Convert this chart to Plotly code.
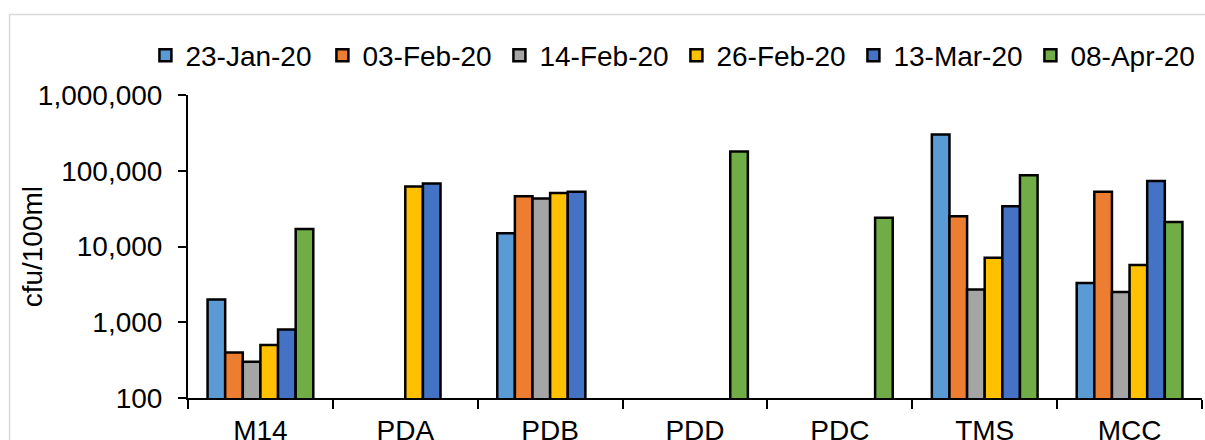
import plotly.graph_objects as go

categories = ["M14", "PDA", "PDB", "PDD", "PDC", "TMS", "MCC"]
series_names = ["23-Jan-20", "03-Feb-20", "14-Feb-20", "26-Feb-20", "13-Mar-20", "08-Apr-20"]
s_23jan = [2000, None, 15000, None, None, 300000, 3300]
s_03feb = [400, None, 46000, None, None, 25000, 53000]
s_14feb = [300, None, 43000, None, None, 2700, 2500]
s_26feb = [500, 62000, 51000, None, None, 7100, 5700]
s_13mar = [800, 68000, 53000, None, None, 34000, 73000]
s_08apr = [17000, None, None, 180000, 24000, 87000, 21000]
series_values = [s_23jan, s_03feb, s_14feb, s_26feb, s_13mar, s_08apr]
colors = ["#5B9BD5", "#ED7D31", "#A5A5A5", "#FFC000", "#4472C4", "#70AD47"]

y_tickvals = [100, 1000, 10000, 100000, 1000000]
y_ticktext = ["100", "1,000", "10,000", "100,000", "1,000,000"]

FONT = "Liberation Sans, Arial, sans-serif"
FS = 28

fig = go.Figure()
for name, vals, col in zip(series_names, series_values, colors):
    fig.add_trace(go.Bar(
        x=categories, y=vals, name=name,
        marker=dict(color=col, line=dict(color="black", width=2.5)),
    ))

fig.update_layout(
    width=1205, height=440,
    margin=dict(l=188, r=3, t=95, b=42, autoexpand=False),
    paper_bgcolor="white", plot_bgcolor="white",
    barmode="group", bargap=0.27, bargroupgap=0,
    font=dict(family=FONT, size=FS, color="black"),
    legend=dict(orientation="h", x=-0.042, xanchor="left", y=1.13, yanchor="middle",
                font=dict(size=FS), traceorder="normal", itemwidth=30,
                entrywidth=132, entrywidthmode="pixels",
                bgcolor="rgba(0,0,0,0)"),
    showlegend=True,
)
fig.update_yaxes(
    type="log", range=[2, 6], tickvals=y_tickvals, ticktext=y_ticktext,
    showline=True, linecolor="black", linewidth=2, ticks="outside", ticklen=8,
    tickwidth=2, tickcolor="black", showgrid=False, zeroline=False,
    tickfont=dict(size=FS), ticklabelstandoff=10, automargin=False,
)
fig.update_xaxes(
    showline=True, linecolor="black", linewidth=2, ticks="outside", ticklen=9,
    tickwidth=2, tickcolor="black", tickson="boundaries", showgrid=False,
    tickfont=dict(size=FS), ticklabelstandoff=6, automargin=False,
)
fig.add_annotation(text="cfu/100ml", xref="paper", yref="paper",
                   x=-0.153, y=0.5, xanchor="center", yanchor="middle",
                   textangle=-90, showarrow=False, font=dict(size=FS))
fig.add_shape(type="rect", xref="paper", yref="paper",
              x0=-0.176, x1=1.2, y0=-0.6, y1=1.266,
              line=dict(color="#D9D9D9", width=1.5), fillcolor="rgba(0,0,0,0)", layer="below")

fig.write_html("out.html", config={"displayModeBar": False},
               post_script="document.body.style.margin='0';")
